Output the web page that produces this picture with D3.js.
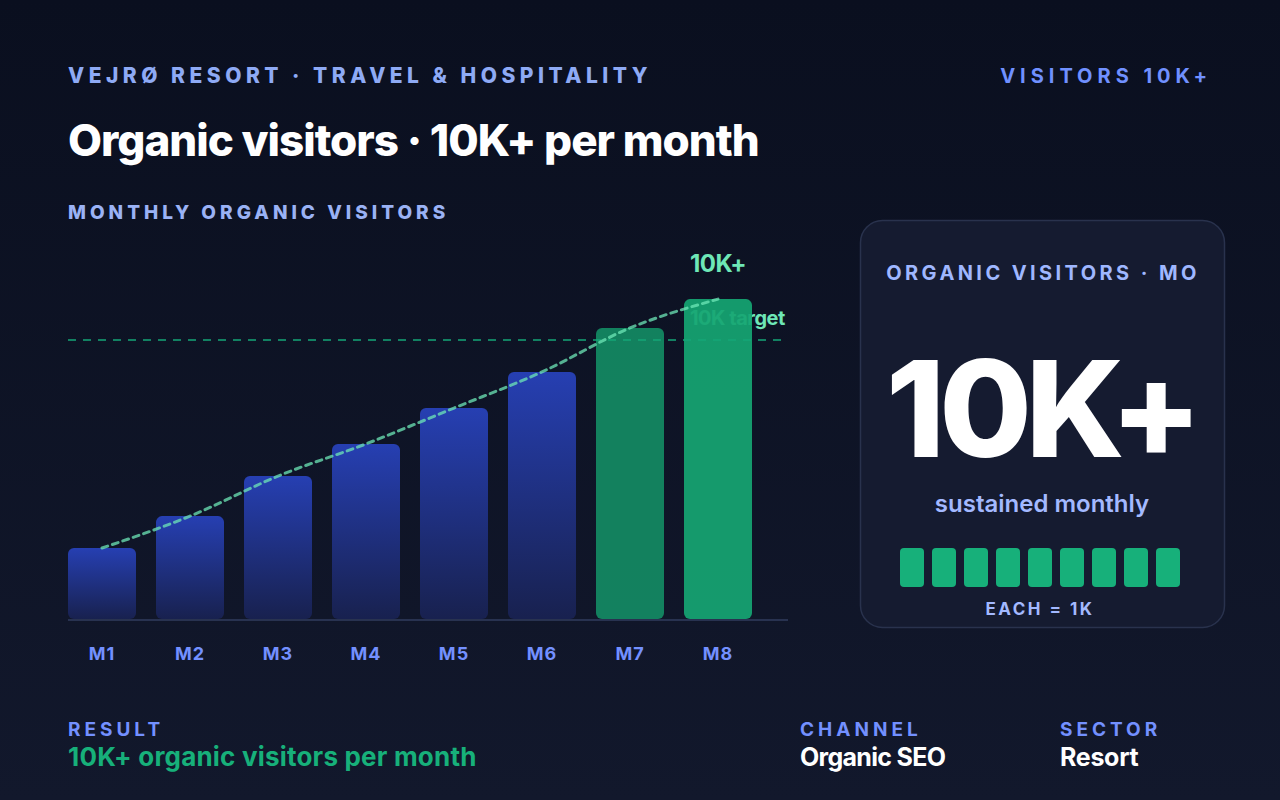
<!DOCTYPE html>
<html><head><meta charset="utf-8">
<script src="https://cdn.jsdelivr.net/npm/d3@7"></script>
<style>
html,body{margin:0;padding:0;background:#0b1020;}
svg{display:block;font-family:Inter,"Noto Sans",sans-serif;}
</style></head>
<body>
<svg id="c" width="1280" height="800"></svg>
<script>
const months = ["M1","M2","M3","M4","M5","M6","M7","M8"];
const visitorsK = [2.57, 3.71, 5.14, 6.29, 7.57, 8.86, 10.43, 11.46];
const targetK = 10;
const unitBlocks = [1,2,3,4,5,6,7,8,9];
const footerLabels = ["RESULT","CHANNEL","SECTOR"];
const footerValues = ["10K+ organic visitors per month","Organic SEO","Resort"];

const svg = d3.select("#c");
const defs = svg.append("defs");
const bg = defs.append("linearGradient").attr("id","bg").attr("x1",0).attr("y1",0).attr("x2",0).attr("y2",1);
bg.append("stop").attr("offset","0%").attr("stop-color","#0a0f1f");
bg.append("stop").attr("offset","100%").attr("stop-color","#12182c");
const bar = defs.append("linearGradient").attr("id","barg").attr("x1",0).attr("y1",0).attr("x2",0).attr("y2",1);
bar.append("stop").attr("offset","0%").attr("stop-color","#263fb2");
bar.append("stop").attr("offset","100%").attr("stop-color","#18214f");

svg.append("rect").attr("width",1280).attr("height",800).attr("fill","url(#bg)");

// header
svg.append("text").attr("x",68).attr("y",83).text("VEJRØ RESORT · TRAVEL & HOSPITALITY")
  .attr("fill","#8eaaf5").attr("font-size",21).attr("font-weight",800).attr("letter-spacing",4.5);
svg.append("text").attr("x",1212).attr("y",83).attr("text-anchor","end").text("VISITORS 10K+")
  .attr("fill","#7090ff").attr("font-size",20).attr("font-weight",700).attr("letter-spacing",5);
svg.append("text").attr("x",68).attr("y",156).text("Organic visitors · 10K+ per month")
  .attr("fill","#ffffff").attr("font-size",44).attr("font-weight",800).attr("letter-spacing",-1.0);
svg.append("text").attr("x",68).attr("y",219).text("MONTHLY ORGANIC VISITORS")
  .attr("fill","#9ab2f5").attr("font-size",19).attr("font-weight",800).attr("letter-spacing",4);

// chart
const x = d3.scaleBand().domain(months).range([68,752]).paddingInner(20/88).paddingOuter(0);
const y = d3.scaleLinear().domain([0,12.5]).range([620,270]);

// target label (behind bars)
svg.append("text").attr("x",690).attr("y",325).text("10K target")
  .attr("fill","#6ee7b7").attr("font-size",20).attr("font-weight",700).attr("letter-spacing",-0.5);

// bars
svg.append("g").selectAll("rect").data(visitorsK).join("rect")
  .attr("x",(d,i)=>x(months[i]))
  .attr("y",d=>y(d))
  .attr("width",x.bandwidth())
  .attr("height",d=>y(0)-y(d)-1)
  .attr("rx",6)
  .attr("fill",(d,i)=> i===6 ? "#138a63" : i===7 ? "#15a572" : "url(#barg)")
  .attr("opacity",(d,i)=> i>=6 ? 0.93 : 1);

// axis baseline
svg.append("line").attr("x1",68).attr("x2",788).attr("y1",620).attr("y2",620)
  .attr("stroke","#283250").attr("stroke-width",2);

// target line
svg.append("line").attr("x1",68).attr("x2",788).attr("y1",y(targetK)).attr("y2",y(targetK))
  .attr("stroke","#14a677").attr("stroke-width",2).attr("stroke-dasharray","8 7").attr("opacity",0.75);

// trend line
const line = d3.line().x((d,i)=>x(months[i])+x.bandwidth()/2).y(d=>y(d)).curve(d3.curveMonotoneX);
svg.append("path").attr("d",line(visitorsK)).attr("fill","none")
  .attr("stroke","#6ee7b7").attr("stroke-opacity",0.75).attr("stroke-width",3)
  .attr("stroke-dasharray","6 5").attr("stroke-linecap","round");

// 10K+ label above last bar
svg.append("text").attr("x",x("M8")+x.bandwidth()/2).attr("y",272).attr("text-anchor","middle")
  .text("10K+").attr("fill","#6ee7b7").attr("font-size",24).attr("font-weight",700).attr("letter-spacing",-0.5);

// x axis labels
const xa = svg.append("g").attr("transform","translate(0,620)")
  .call(d3.axisBottom(x).tickSize(0).tickPadding(27));
xa.select(".domain").remove();
xa.selectAll("text").attr("fill","#7390ff").attr("font-size",18).attr("font-weight",700)
  .attr("font-family","Inter, sans-serif").attr("letter-spacing",1);

// card
svg.append("rect").attr("x",860.5).attr("y",220.5).attr("width",364).attr("height",407).attr("rx",22)
  .attr("fill","#151b30").attr("stroke","#29324d").attr("stroke-width",1.5);
svg.append("text").attr("x",1043).attr("y",280).attr("text-anchor","middle").text("ORGANIC VISITORS · MO")
  .attr("fill","#9fb7ff").attr("font-size",20).attr("font-weight",700).attr("letter-spacing",3.4);
svg.append("text").attr("x",1041).attr("y",457).attr("text-anchor","middle").text("10K+")
  .attr("fill","#ffffff").attr("font-size",134).attr("font-weight",800).attr("letter-spacing",-6);
svg.append("text").attr("x",1042).attr("y",512).attr("text-anchor","middle").text("sustained monthly")
  .attr("fill","#a3b9ff").attr("font-size",24).attr("font-weight",600).attr("letter-spacing",0);
const bx = d3.scaleBand().domain(unitBlocks).range([900,1180]).paddingInner(8/32).paddingOuter(0);
svg.append("g").selectAll("rect").data(unitBlocks).join("rect")
  .attr("x",d=>bx(d)).attr("y",548).attr("width",bx.bandwidth()).attr("height",39).attr("rx",4)
  .attr("fill","#17b07a");
svg.append("text").attr("x",1040).attr("y",615).attr("text-anchor","middle").text("EACH = 1K")
  .attr("fill","#a3b9ff").attr("font-size",17).attr("font-weight",700).attr("letter-spacing",2.5);

// footer
const fx = [68,800,1060];
const fvSize = [26,25,25];
const fvLs = [0.2,-0.7,-0.3];
footerLabels.forEach((t,i)=>{
  svg.append("text").attr("x",fx[i]).attr("y",736).text(t)
    .attr("fill","#7390ff").attr("font-size",19).attr("font-weight",700).attr("letter-spacing",4);
  svg.append("text").attr("x",fx[i]).attr("y",766).text(footerValues[i])
    .attr("fill", i===0 ? "#17b07a" : "#ffffff").attr("font-size",fvSize[i]).attr("font-weight",700).attr("letter-spacing",fvLs[i]);
});
</script>
</body></html>
